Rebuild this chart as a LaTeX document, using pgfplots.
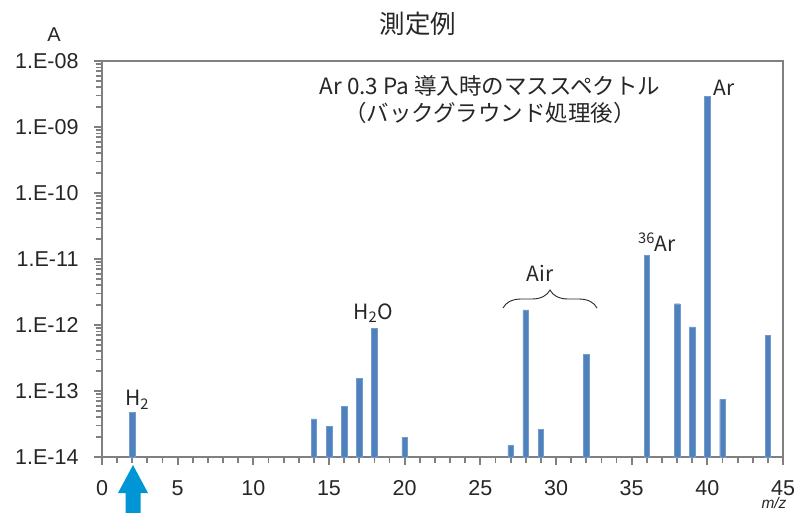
\documentclass[border=0pt]{standalone}
\usepackage{fontspec}
\setmainfont{Liberation Sans}
\newfontfamily\jp{Noto Sans CJK JP}
\usepackage{pgfplots}
\pgfplotsset{compat=1.18}
\usetikzlibrary{decorations.pathreplacing}
\definecolor{barblue}{RGB}{79,129,189}
\definecolor{axgray}{RGB}{128,128,128}
\definecolor{arrowblue}{RGB}{0,150,214}

\begin{document}
\begin{tikzpicture}
\begin{axis}[
  scale only axis, width=681pt, height=396pt,
  xmin=0, xmax=45, ymin=1e-14, ymax=1e-8,
  ymode=log, log origin y=infty,
  xtick={0,5,...,45}, xticklabels={0,5,10,15,20,25,30,35,40,45},
  minor x tick num=4,
  ytick={1e-14,1e-13,1e-12,1e-11,1e-10,1e-9,1e-8},
  yticklabels={1.E-14,1.E-13,1.E-12,1.E-11,1.E-10,1.E-09,1.E-08},
  minor ytick={2e-14,3e-14,4e-14,5e-14,6e-14,7e-14,8e-14,9e-14,
    2e-13,3e-13,4e-13,5e-13,6e-13,7e-13,8e-13,9e-13,
    2e-12,3e-12,4e-12,5e-12,6e-12,7e-12,8e-12,9e-12,
    2e-11,3e-11,4e-11,5e-11,6e-11,7e-11,8e-11,9e-11,
    2e-10,3e-10,4e-10,5e-10,6e-10,7e-10,8e-10,9e-10,
    2e-9,3e-9,4e-9,5e-9,6e-9,7e-9,8e-9,9e-9},
  tick align=outside, tick pos=left,
  major tick length=8pt, minor tick length=6pt,
  tick style={axgray, line width=1.8pt},
  axis line style={axgray, line width=1.5pt},
  ticklabel style={font=\fontsize{21.5}{24}\selectfont, text=black!85},
  xticklabel style={yshift=-12pt},
  yticklabel style={xshift=-12pt},
  clip=false,
]
\addplot[ybar, bar width=5.5pt, fill=barblue, draw=barblue!80!white] coordinates {
  (2,4.8e-14) (14,3.8e-14) (15,2.95e-14) (16,5.8e-14) (17,1.57e-13) (18,9.0e-13)
  (20,2.0e-14) (27,1.5e-14) (28,1.7e-12) (29,2.6e-14) (32,3.6e-13)
  (36,1.15e-11) (38,2.1e-12) (39,9.4e-13) (40,2.9e-9) (41,7.5e-14) (44,6.9e-13)
};
\end{axis}
% annotations (1pt = 1px of the reference, origin at the axis' lower left corner)
\begin{scope}[every node/.style={font=\jp\fontsize{21}{24}\selectfont, text=black!85}]
\node at (316pt,433pt) {\fontsize{25.5}{28}\selectfont 測定例};
\node at (-48pt,422pt) {\rmfamily\fontsize{20}{22}\selectfont A};
\node[align=center, font=\jp\fontsize{22.5}{27}\selectfont] at (388pt,357pt) {Ar 0.3 Pa 導入時のマススペクトル\\（バックグラウンド処理後）};
\node at (35pt,57pt) {H\textsubscript{2}};
\node at (271pt,144pt) {H\textsubscript{2}O};
\node at (438pt,184pt) {Air};
\node at (555pt,215pt) {\textsuperscript{36}Ar};
\node at (622pt,369pt) {Ar};
\node[anchor=base, inner sep=0pt] at (672pt,-51pt) {\rmfamily\itshape\fontsize{15.5}{18}\selectfont m/z};
\end{scope}
\draw[decorate, decoration={brace, amplitude=18pt}, line width=0.9pt, black!85] (401pt,149pt) -- (495pt,149pt);
\fill[arrowblue] (31pt,-8pt) -- (46pt,-36pt) -- (38.5pt,-36pt) -- (38.5pt,-60pt) -- (23.5pt,-60pt) -- (23.5pt,-36pt) -- (16pt,-36pt) -- cycle;
\pgfresetboundingbox
\path (-102pt,-55pt) rectangle (692pt,457pt);
\end{tikzpicture}
\end{document}
